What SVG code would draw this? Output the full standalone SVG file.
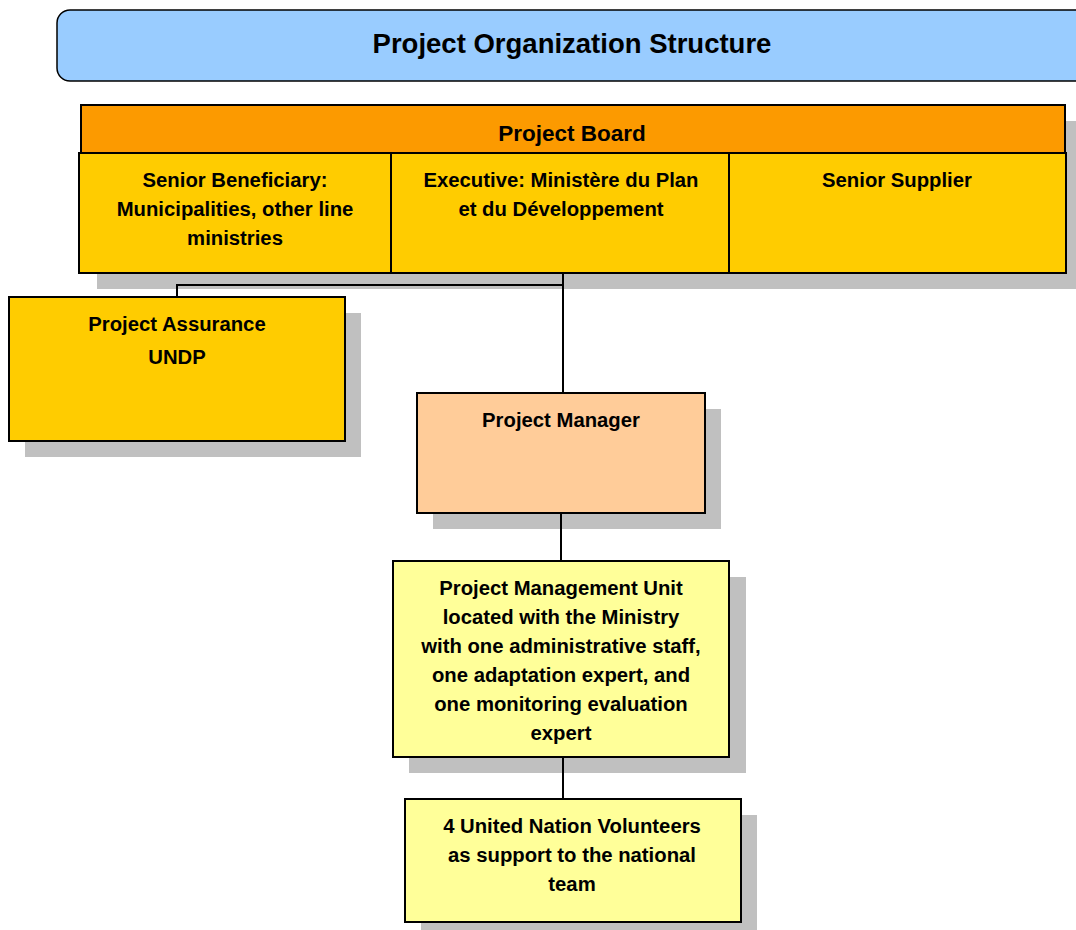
<svg xmlns="http://www.w3.org/2000/svg" width="1076" height="930" viewBox="0 0 1076 930">
<style>
text{font-family:"Liberation Sans",Arial,sans-serif;font-weight:bold;fill:#000;text-anchor:middle;font-size:20.3px}
.box{stroke:#000;stroke-width:2}
.sh{fill:#C0C0C0}
.conn{stroke:#000;stroke-width:2;fill:none}
</style>
<rect width="1076" height="930" fill="#fff"/>
<g id="title">
<rect x="57" y="10" width="1040" height="71" rx="13" fill="#99CCFF" stroke="#000" stroke-width="1.5"/>
<text x="572" y="53" style="font-size:27.5px">Project Organization Structure</text>
</g>
<g id="shadows">
<rect class="sh" x="97" y="121" width="984" height="168"/>
<rect class="sh" x="25" y="313" width="336" height="144"/>
<rect class="sh" x="433" y="409" width="288" height="120"/>
<rect class="sh" x="409" y="577" width="337" height="196"/>
<rect class="sh" x="421" y="815" width="336" height="120"/>
</g>
<g id="connectors">
<path class="conn" d="M563 273 V393"/>
<path class="conn" d="M563 285 H177 V297"/>
<path class="conn" d="M561 513 V561"/>
<path class="conn" d="M563 757 V799"/>
</g>
<g id="board">
<rect class="box" x="81" y="105" width="984" height="48" fill="#FC9A00"/>
<text x="572" y="141" style="font-size:22.5px">Project Board</text>
</g>
<g id="senior-beneficiary">
<rect class="box" x="79" y="153" width="312" height="120" fill="#FFCC00"/>
<text x="235" y="187">Senior Beneficiary:</text>
<text x="235" y="216">Municipalities, other line</text>
<text x="235" y="245">ministries</text>
</g>
<g id="executive">
<rect class="box" x="391" y="153" width="338" height="120" fill="#FFCC00"/>
<text x="561" y="187">Executive: Ministère du Plan</text>
<text x="561" y="216">et du Développement</text>
</g>
<g id="senior-supplier">
<rect class="box" x="729" y="153" width="337" height="120" fill="#FFCC00"/>
<text x="897" y="187">Senior Supplier</text>
</g>
<g id="project-assurance">
<rect class="box" x="9" y="297" width="336" height="144" fill="#FFCC00"/>
<text x="177" y="331">Project Assurance</text>
<text x="177" y="364">UNDP</text>
</g>
<g id="project-manager">
<rect class="box" x="417" y="393" width="288" height="120" fill="#FFCC99"/>
<text x="561" y="427">Project Manager</text>
</g>
<g id="pmu">
<rect class="box" x="393" y="561" width="336" height="196" fill="#FFFF99"/>
<text x="561" y="595">Project Management Unit</text>
<text x="561" y="624">located with the Ministry</text>
<text x="561" y="653">with one administrative staff,</text>
<text x="561" y="682">one adaptation expert, and</text>
<text x="561" y="711">one monitoring evaluation</text>
<text x="561" y="740">expert</text>
</g>
<g id="unv">
<rect class="box" x="405" y="799" width="336" height="123" fill="#FFFF99"/>
<text x="572" y="833">4 United Nation Volunteers</text>
<text x="572" y="862">as support to the national</text>
<text x="572" y="891">team</text>
</g>
</svg>
